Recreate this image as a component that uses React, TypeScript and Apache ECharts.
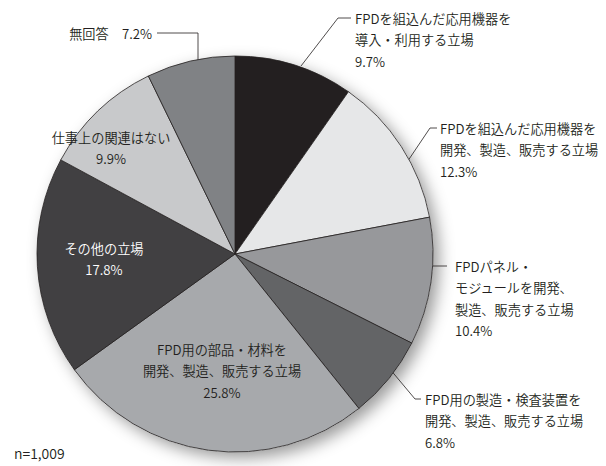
import React, { useEffect, useRef } from "react";
import * as echarts from "echarts";

const categories = [
  "FPDを組込んだ応用機器を\n導入・利用する立場",
  "FPDを組込んだ応用機器を\n開発、製造、販売する立場",
  "FPDパネル・\nモジュールを開発、\n製造、販売する立場",
  "FPD用の製造・検査装置を\n開発、製造、販売する立場",
  "FPD用の部品・材料を\n開発、製造、販売する立場",
  "その他の立場",
  "仕事上の関連はない",
  "無回答",
];
const values = [9.7, 12.3, 10.4, 6.8, 25.8, 17.8, 9.9, 7.2];
const colors = ["#231f20", "#e6e7e8", "#97989b", "#636466", "#a7a9ac", "#414042", "#c8c9cb", "#808285"];
const note = "n=1,009";

// label placement: x, first line centre y, align, leader points
const labelPlaces: any[] = [
  { x: 355, y: 18, align: "left", line: [[301, 66], [338, 18], [351, 18]] },
  { x: 440, y: 128, align: "left", line: [[393, 183], [430, 128], [437, 128]] },
  { x: 455, y: 266, align: "left", line: [[423, 266], [437, 266], [447, 266]] },
  { x: 425, y: 399, align: "left", line: [[384, 362], [415, 399], [421, 399]] },
  { x: 222, y: 349, align: "center", line: null },
  { x: 104, y: 248, align: "center", line: null },
  { x: 111, y: 137, align: "center", line: null },
  { x: 152, y: 33, align: "right", line: [[198, 72], [198, 33], [157, 33]] },
];

const LH = 21.5;

export default function App() {
  const ref = useRef<HTMLDivElement>(null);
  useEffect(() => {
    if (!ref.current) return;
    const chart = echarts.init(ref.current, null, { renderer: "svg" });
    const font = "'Noto Sans CJK JP', sans-serif";
    chart.setOption({
      animation: false,
      backgroundColor: "#ffffff",
      graphic: [
        {
          type: "text",
          left: 14,
          top: 446,
          style: { text: note, fontFamily: font, fontSize: 14, fontWeight: 350, fill: "#231f20" },
        },
      ],
      series: [
        {
          type: "pie",
          silent: true,
          center: [235, 254],
          radius: 198,
          label: { show: false },
          labelLine: { show: false },
          itemStyle: {
            color: "#ffffff",
            shadowBlur: 16,
            shadowOffsetX: 6,
            shadowOffsetY: 6,
            shadowColor: "rgba(0,0,0,0.4)",
          },
          data: [{ value: 1, name: "" }],
          z: 1,
        },
        {
          type: "pie",
          center: [235, 254],
          radius: 198,
          startAngle: 90,
          clockwise: true,
          avoidLabelOverlap: false,
          z: 2,
          itemStyle: { borderColor: "#231f20", borderWidth: 0.8 },
          label: {
            show: true,
            position: "outside",
            overflow: "none",
            fontFamily: font,
            fontSize: 13.2,
            fontWeight: 350,
            lineHeight: LH,
            color: "#231f20",
            formatter: (p: any) =>
              p.dataIndex === 7 ? `${p.name}　${p.value}%` : `${p.name}\n${p.value}%`,
          },
          labelLine: {
            show: true,
            lineStyle: { color: "#231f20", width: 0.8 },
          },
          labelLayout: (params: any) => {
            const lp = labelPlaces[params.dataIndex];
            const out: any = {
              x: lp.x,
              y: lp.y - LH / 2,
              align: lp.align,
              verticalAlign: "top",
              hideOverlap: false,
              moveOverlap: null,
            };
            if (lp.line) out.labelLinePoints = lp.line;
            return out;
          },
          data: categories.map((name, i) => ({
            name,
            value: values[i],
            itemStyle: { color: colors[i] },
            label: i === 5 ? { color: "#ffffff" } : {},
            labelLine: { show: labelPlaces[i].line !== null },
          })),
        },
      ],
    });
    return () => chart.dispose();
  }, []);
  return (
    <div
      ref={ref}
      style={{ position: "absolute", left: 0, top: 0, width: 606, height: 466 }}
    />
  );
}
